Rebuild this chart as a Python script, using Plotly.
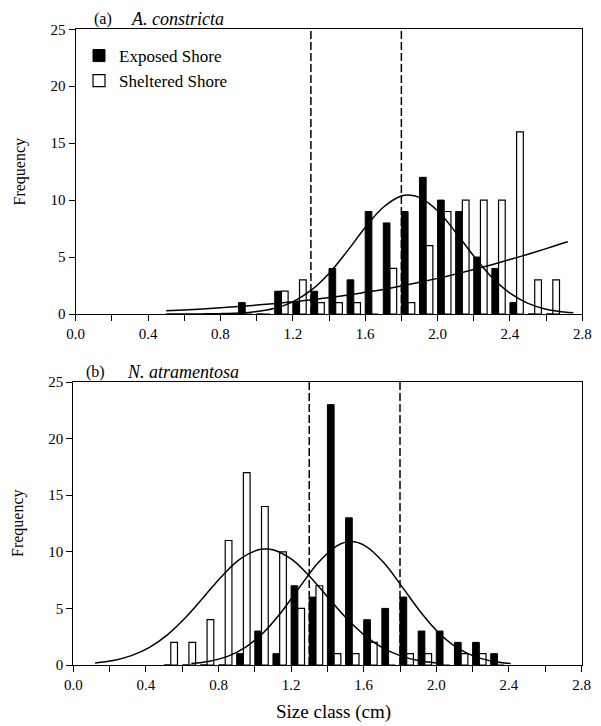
import plotly.graph_objects as go

# ---------------- data ----------------
classes_a = [0.9, 1.0, 1.1, 1.2, 1.3, 1.4, 1.5, 1.6, 1.7, 1.8, 1.9, 2.0, 2.1, 2.2, 2.3, 2.4, 2.5, 2.6]
exposed_a = [1, 0, 2, 1, 2, 4, 3, 9, 8, 9, 12, 10, 9, 5, 4, 1, 0, 0]
sheltered_a = [0, 0, 2, 3, 1, 1, 1, 0, 4, 1, 6, 9, 10, 10, 10, 16, 3, 3]

classes_b = [0.5, 0.6, 0.7, 0.8, 0.9, 1.0, 1.1, 1.2, 1.3, 1.4, 1.5, 1.6, 1.7, 1.8, 1.9, 2.0, 2.1, 2.2, 2.3]
exposed_b = [0, 0, 0, 0, 1, 3, 1, 7, 6, 23, 13, 4, 5, 6, 3, 3, 2, 2, 1]
sheltered_b = [2, 2, 4, 11, 17, 14, 10, 5, 7, 1, 1, 2, 0, 1, 1, 0, 1, 1, 0]

# fitted curves
fit_a_exposed_x = [0.5, 0.6, 0.7, 0.8, 0.9, 1.0, 1.1, 1.2, 1.3, 1.4, 1.5, 1.6, 1.7, 1.8, 1.84,
                   1.9, 2.0, 2.1, 2.2, 2.3, 2.4, 2.5, 2.6, 2.7, 2.75]
fit_a_exposed_y = [0.00, 0.00, 0.01, 0.03, 0.08, 0.21, 0.50, 1.07, 2.07, 3.56, 5.50, 7.59, 9.37, 10.36, 10.45,
                   10.24, 9.06, 7.18, 5.09, 3.22, 1.83, 0.93, 0.42, 0.17, 0.10]
fit_a_sheltered_x = [0.5, 0.6, 0.7, 0.8, 0.9, 1.0, 1.1, 1.2, 1.3, 1.4, 1.5, 1.6, 1.7, 1.8,
                     1.9, 2.0, 2.1, 2.2, 2.3, 2.4, 2.5, 2.6, 2.7, 2.72]
fit_a_sheltered_y = [0.28, 0.36, 0.45, 0.55, 0.66, 0.78, 0.92, 1.07, 1.24, 1.44, 1.65, 1.90, 2.16, 2.46,
                     2.78, 3.13, 3.50, 3.90, 4.33, 4.78, 5.25, 5.74, 6.25, 6.35]

fit_b_exposed_x = [0.65, 0.75, 0.85, 0.95, 1.05, 1.15, 1.25, 1.35, 1.45, 1.53,
                   1.61, 1.71, 1.81, 1.91, 2.01, 2.11, 2.21, 2.31, 2.41]
fit_b_exposed_y = [0.13, 0.33, 0.76, 1.58, 2.90, 4.75, 6.95, 9.05, 10.51, 10.9,
                   10.51, 9.05, 6.95, 4.75, 2.90, 1.58, 0.76, 0.33, 0.13]
fit_b_sheltered_x = [0.12, 0.22, 0.32, 0.42, 0.52, 0.62, 0.72, 0.82, 0.92, 1.02, 1.06,
                     1.10, 1.20, 1.30, 1.40, 1.50, 1.60, 1.70, 1.80, 1.90, 2.00]
fit_b_sheltered_y = [0.18, 0.40, 0.83, 1.56, 2.69, 4.21, 6.03, 7.87, 9.37, 10.18, 10.25,
                     10.18, 9.37, 7.87, 6.03, 4.21, 2.69, 1.56, 0.83, 0.40, 0.18]

dashed_lines = [1.3, 1.8]
x_ticks = [0.0, 0.4, 0.8, 1.2, 1.6, 2.0, 2.4, 2.8]
x_minor_ticks = [0.2, 0.6, 1.0, 1.4, 1.8, 2.2, 2.6]
y_ticks = [0, 5, 10, 15, 20, 25]

# ---------------- figure ----------------
W, H = 601, 726
FONT = "Liberation Serif"
BW = 0.037


def px(xp):
    return xp / W


def py(yp):
    return 1 - yp / H


fig = go.Figure()

for (cls, ex, sh, xa, ya, show) in [
    (classes_a, exposed_a, sheltered_a, "x", "y", True),
    (classes_b, exposed_b, sheltered_b, "x2", "y2", False),
]:
    fig.add_trace(go.Bar(x=cls, y=ex, width=BW, offset=0, name="Exposed Shore",
                         marker=dict(color="black", line=dict(color="black", width=1)),
                         xaxis=xa, yaxis=ya, showlegend=show))
    fig.add_trace(go.Bar(x=cls, y=sh, width=BW, offset=BW, name="Sheltered Shore",
                         marker=dict(color="white", line=dict(color="black", width=1.2)),
                         xaxis=xa, yaxis=ya, showlegend=show))

for (cx, cy, xa, ya) in [
    (fit_a_exposed_x, fit_a_exposed_y, "x", "y"),
    (fit_a_sheltered_x, fit_a_sheltered_y, "x", "y"),
    (fit_b_exposed_x, fit_b_exposed_y, "x2", "y2"),
    (fit_b_sheltered_x, fit_b_sheltered_y, "x2", "y2"),
]:
    fig.add_trace(go.Scatter(x=cx, y=cy, mode="lines", line=dict(color="black", width=1.5, shape="spline"),
                             xaxis=xa, yaxis=ya, showlegend=False, hoverinfo="skip"))

for xa, ya in [("x", "y"), ("x2", "y2")]:
    for xv in dashed_lines:
        fig.add_shape(type="line", x0=xv, x1=xv, y0=0, y1=25, xref=xa, yref=ya,
                      line=dict(color="black", width=1.5, dash="8px,3px"))

axis_common = dict(showline=True, mirror=True, linecolor="black", linewidth=1.3,
                   ticks="outside", ticklen=6, tickwidth=1.2, tickcolor="black",
                   showgrid=False, zeroline=False, automargin=False,
                   tickfont=dict(family=FONT, size=15, color="black"))

xcommon = dict(axis_common, range=[0, 2.8], tickvals=x_ticks, tickformat=".1f",
               minor=dict(tickvals=x_minor_ticks, ticks="outside",
                          ticklen=6, tickwidth=1.2, tickcolor="black"))
ycommon = dict(axis_common, range=[0, 25], tickvals=y_ticks)

fig.update_layout(
    width=W, height=H,
    margin=dict(l=0, r=0, t=0, b=0),
    paper_bgcolor="white", plot_bgcolor="white",
    barmode="overlay",
    font=dict(family=FONT, size=15, color="black"),
    xaxis=dict(xcommon, domain=[px(75.7), px(582.3)], anchor="y"),
    yaxis=dict(ycommon, domain=[py(314), py(29.3)], anchor="x"),
    xaxis2=dict(xcommon, domain=[px(73.3), px(581.5)], anchor="y2"),
    yaxis2=dict(ycommon, domain=[py(665), py(382)], anchor="x2"),
    legend=dict(x=px(79), y=py(38), xanchor="left", yanchor="top",
                bgcolor="rgba(0,0,0,0)", font=dict(family=FONT, size=17, color="black"),
                tracegroupgap=0, itemwidth=30),
)

annotations = [
    dict(text="(a)", x=px(92), y=py(19), xanchor="left", yanchor="middle"),
    dict(text="<i>A. constricta</i>", x=px(129), y=py(19), xanchor="left", yanchor="middle",
         font=dict(family=FONT, size=18, color="black")),
    dict(text="(b)", x=px(84), y=py(372), xanchor="left", yanchor="middle"),
    dict(text="<i>N. atramentosa</i>", x=px(125), y=py(372), xanchor="left", yanchor="middle",
         font=dict(family=FONT, size=18, color="black")),
    dict(text="Frequency", x=px(20), y=py(171.5), textangle=-90, xanchor="center", yanchor="middle"),
    dict(text="Frequency", x=px(18), y=py(523), textangle=-90, xanchor="center", yanchor="middle"),
    dict(text="Size class (cm)", x=px(334), y=py(712), xanchor="center", yanchor="middle",
         font=dict(family=FONT, size=19, color="black")),
]
for a in annotations:
    a.setdefault("font", dict(family=FONT, size=16, color="black"))
    fig.add_annotation(xref="paper", yref="paper", showarrow=False, **a)

fig.write_html("out.html", config={"displayModeBar": False},
               post_script="document.body.style.margin='0';document.body.style.overflow='hidden';")
